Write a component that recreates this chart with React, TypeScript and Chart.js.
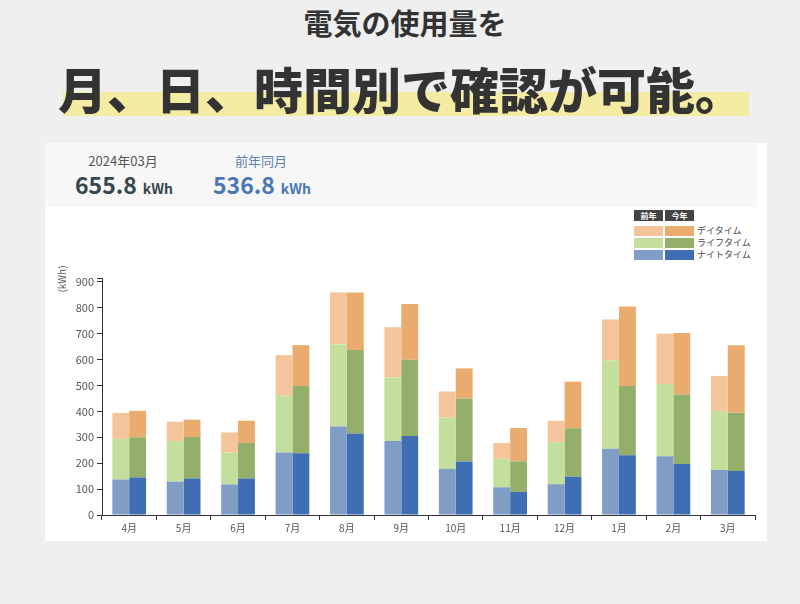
import React, { useEffect, useRef } from "react";
import { Chart, registerables } from "chart.js";

Chart.register(...registerables);

const months = ["4月", "5月", "6月", "7月", "8月", "9月", "10月", "11月", "12月", "1月", "2月", "3月"];

// 前年 (previous year)
const prevNight = [137, 129, 118, 241, 342, 286, 178, 107, 119, 256, 227, 174];
const prevLife = [157, 157, 123, 220, 316, 245, 198, 110, 162, 341, 279, 228];
const prevDay = [100, 74, 78, 156, 201, 194, 101, 61, 83, 158, 194, 134.8];

// 今年 (this year)
const curNight = [145, 141, 141, 238, 315, 305, 207, 89, 148, 231, 197, 170];
const curLife = [155, 160, 137, 260, 322, 294, 243, 118, 187, 267, 268, 225];
const curDay = [102, 67, 86, 158, 222, 216, 116, 129, 180, 307, 238, 260.8];

const yTicks = [0, 100, 200, 300, 400, 500, 600, 700, 800, 900];
const legendRows = ["デイタイム", "ライフタイム", "ナイトタイム"];

const COLORS = {
  prevDay: "#f4c59b",
  curDay: "#eaab6e",
  prevLife: "#c3df9b",
  curLife: "#93af6a",
  prevNight: "#809dc6",
  curNight: "#3f6eb4",
};

const JP = '"Noto Sans CJK JP", "Noto Sans", sans-serif';

export default function App() {
  const canvasRef = useRef<HTMLCanvasElement | null>(null);

  useEffect(() => {
    if (!canvasRef.current) return;
    const extras = {
      id: "extras",
      afterDraw(chart: any) {
        const ctx = chart.ctx;
        const area = chart.chartArea;
        ctx.save();
        // top hook of y axis
        ctx.strokeStyle = "#333";
        ctx.lineWidth = 1;
        ctx.beginPath();
        ctx.moveTo(area.left - 5, Math.round(area.top) + 0.5);
        ctx.lineTo(area.left, Math.round(area.top) + 0.5);
        ctx.stroke();
        // y title
        ctx.fillStyle = "#555";
        ctx.font = `10px ${JP}`;
        ctx.textAlign = "center";
        ctx.textBaseline = "middle";
        ctx.translate(17, area.top + 1);
        ctx.rotate(-Math.PI / 2);
        ctx.fillText("(kWh)", 0, 0);
        ctx.restore();
      },
    };

    const chart = new Chart(canvasRef.current, {
      type: "bar",
      data: {
        labels: months,
        datasets: [
          { label: "前年ナイトタイム", data: prevNight, backgroundColor: COLORS.prevNight, stack: "prev" },
          { label: "前年ライフタイム", data: prevLife, backgroundColor: COLORS.prevLife, stack: "prev" },
          { label: "前年デイタイム", data: prevDay, backgroundColor: COLORS.prevDay, stack: "prev" },
          { label: "今年ナイトタイム", data: curNight, backgroundColor: COLORS.curNight, stack: "cur" },
          { label: "今年ライフタイム", data: curLife, backgroundColor: COLORS.curLife, stack: "cur" },
          { label: "今年デイタイム", data: curDay, backgroundColor: COLORS.curDay, stack: "cur" },
        ],
      },
      options: {
        animation: false,
        responsive: false,
        maintainAspectRatio: false,
        datasets: { bar: { barPercentage: 1, categoryPercentage: 0.62, borderWidth: 0 } },
        layout: { padding: { top: 71, right: 12, left: 0, bottom: 0 } },
        plugins: { legend: { display: false }, tooltip: { enabled: false } },
        scales: {
          x: {
            stacked: true,
            grid: { display: true, drawOnChartArea: false, drawTicks: true, tickLength: 5, offset: true, color: "#333" },
            border: { display: true, color: "#333" },
            ticks: { color: "#555", font: { size: 10, family: JP }, padding: 2, maxRotation: 0 },
            afterFit: (s: any) => {
              s.height = 26;
            },
          },
          y: {
            stacked: true,
            min: 0,
            max: 915,
            grid: { display: true, drawOnChartArea: false, drawTicks: true, tickLength: 5, color: "#333" },
            border: { display: true, color: "#333" },
            ticks: { color: "#555", font: { size: 11, family: JP }, padding: 3, stepSize: 100 },
            afterBuildTicks: (s: any) => {
              s.ticks = yTicks.map((v) => ({ value: v }));
            },
            afterFit: (s: any) => {
              s.width = 57;
            },
          },
        },
      },
      plugins: [extras],
    } as any);
    return () => chart.destroy();
  }, []);

  return (
    <div
      style={{
        position: "absolute",
        left: 0,
        top: 0,
        width: 800,
        height: 604,
        background: "#efefef",
        fontFamily: JP,
        overflow: "hidden",
      }}
    >
      <div
        style={{
          position: "absolute",
          left: 0,
          top: 2,
          width: 810,
          textAlign: "center",
          fontSize: 29,
          fontWeight: 700,
          color: "#333",
          lineHeight: "40px",
        }}
      >
        電気の使用量を
      </div>
      <div style={{ position: "absolute", left: 63, top: 92, width: 686, height: 24, background: "#f4eca2" }} />
      <div
        style={{
          position: "absolute",
          left: 58,
          top: 56,
          fontSize: 49,
          fontWeight: 900,
          color: "#333",
          lineHeight: "64px",
          whiteSpace: "nowrap",
        }}
      >
        月、日、時間別で確認が可能。
      </div>

      <div style={{ position: "absolute", left: 45, top: 143, width: 722, height: 398, background: "#ffffff" }} />
      <div style={{ position: "absolute", left: 45, top: 143, width: 712, height: 64, background: "#f7f7f7" }} />

      <div style={{ position: "absolute", left: 63, top: 151, width: 120, textAlign: "center", color: "#555", fontSize: 13, lineHeight: "20px" }}>
        2024年03月
      </div>
      <div style={{ position: "absolute", left: 54, top: 169, width: 140, textAlign: "center", color: "#36474d", whiteSpace: "nowrap", lineHeight: "30px" }}>
        <span style={{ fontSize: 23, fontWeight: 700 }}>655.8</span>
        <span style={{ fontSize: 14, fontWeight: 700, marginLeft: 6 }}>kWh</span>
      </div>
      <div style={{ position: "absolute", left: 201, top: 151, width: 120, textAlign: "center", color: "#5a80b4", fontSize: 13, lineHeight: "20px" }}>
        前年同月
      </div>
      <div style={{ position: "absolute", left: 192, top: 169, width: 140, textAlign: "center", color: "#4a76b6", whiteSpace: "nowrap", lineHeight: "30px" }}>
        <span style={{ fontSize: 23, fontWeight: 700 }}>536.8</span>
        <span style={{ fontSize: 14, fontWeight: 700, marginLeft: 6 }}>kWh</span>
      </div>

      {/* legend */}
      <div style={{ position: "absolute", left: 634, top: 210, width: 29, height: 11, background: "#444", color: "#fff", fontSize: 8, fontWeight: 700, textAlign: "center", lineHeight: "11px" }}>
        前年
      </div>
      <div style={{ position: "absolute", left: 665, top: 210, width: 29, height: 11, background: "#444", color: "#fff", fontSize: 8, fontWeight: 700, textAlign: "center", lineHeight: "11px" }}>
        今年
      </div>
      {legendRows.map((label, i) => {
        const prevC = [COLORS.prevDay, COLORS.prevLife, COLORS.prevNight][i];
        const curC = [COLORS.curDay, COLORS.curLife, COLORS.curNight][i];
        const top = 226 + i * 12.2;
        return (
          <React.Fragment key={label}>
            <div style={{ position: "absolute", left: 634, top, width: 29, height: 10, background: prevC }} />
            <div style={{ position: "absolute", left: 665, top, width: 29, height: 10, background: curC }} />
            <div style={{ position: "absolute", left: 697, top: top - 2, fontSize: 9, color: "#444", lineHeight: "14px", whiteSpace: "nowrap" }}>
              {label}
            </div>
          </React.Fragment>
        );
      })}

      <canvas
        ref={canvasRef}
        width={722}
        height={334}
        style={{ position: "absolute", left: 45, top: 207, width: 722, height: 334 }}
      />
    </div>
  );
}
